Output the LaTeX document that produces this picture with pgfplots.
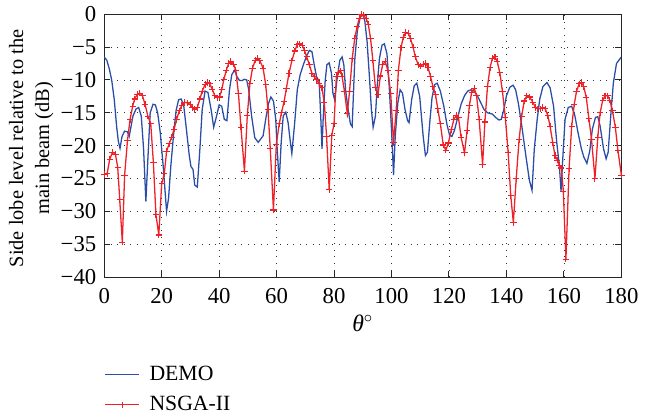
\documentclass[border=0pt]{standalone}
\usepackage{fontspec}
\setmainfont{Liberation Serif}
\usepackage{pgfplots}
\pgfplotsset{compat=1.18}
\definecolor{demoBlue}{RGB}{42,78,168}
\definecolor{nsgaRed}{RGB}{238,32,40}

% NSGA-II pattern
\pgfplotstableread{
x y
0 -24.4
1.0 -24.3
1.9 -22.1
2.9 -21.0
3.9 -21.3
4.7 -23.3
5.4 -28.2
6.3 -34.7
7.1 -24.5
8.1 -19.2
9.0 -16.0
9.9 -14.0
10.6 -12.9
11.5 -12.2
12.4 -12.0
13.3 -12.4
14.2 -13.7
15.2 -15.5
16.2 -16.7
17.1 -22.5
18.0 -30.5
19.0 -33.6
20.0 -25.8
20.9 -24.3
21.7 -20.9
22.6 -19.7
23.5 -18.7
24.3 -17.5
25.2 -16.0
26.1 -14.7
27.0 -13.9
27.9 -13.4
28.9 -13.5
29.9 -13.7
30.7 -14.2
31.5 -14.5
32.4 -14.2
33.3 -12.9
34.1 -11.7
35.1 -10.7
35.9 -10.4
36.7 -10.6
37.6 -11.4
38.5 -12.4
39.3 -12.7
40.1 -12.6
40.9 -11.5
41.6 -10.0
42.5 -8.5
43.3 -7.5
44.1 -7.2
45.0 -7.6
45.8 -8.5
46.7 -12.0
47.6 -17.2
48.8 -23.9
49.8 -15.4
50.7 -10.6
51.6 -8.2
52.6 -7.0
53.4 -6.7
54.2 -7.1
55.3 -8.2
56.2 -10.7
57.0 -14.5
57.8 -20.5
58.9 -29.8
59.9 -19.8
60.9 -16.7
61.7 -15.0
62.6 -13.3
63.4 -11.3
64.3 -9.0
65.3 -7.1
66.3 -5.6
67.2 -4.6
68.0 -4.5
68.9 -4.7
69.7 -5.5
70.5 -6.5
71.4 -7.7
72.3 -9.0
73.1 -9.5
73.9 -10.0
74.8 -10.6
75.8 -11.2
76.6 -13.5
77.4 -18.6
78.3 -26.7
79.2 -18.5
80.0 -16.6
80.8 -9.5
81.5 -8.8
82.3 -8.6
82.8 -9.5
83.6 -11.7
84.6 -15.1
85.4 -11.7
86.3 -6.8
87.2 -3.7
88.0 -1.9
88.8 -0.6
89.6 0
90.4 -0.2
91.2 -0.7
91.9 -1.5
92.7 -3.7
93.5 -7.0
94.4 -11.2
95.3 -12.2
96.1 -9.4
96.9 -7.7
97.8 -7.2
98.7 -8.5
99.7 -12.0
100.7 -19.5
101.6 -14.7
102.4 -8.5
103.3 -5.1
104.1 -3.5
104.9 -2.8
105.8 -2.9
106.6 -3.7
107.5 -5.0
108.3 -6.5
109.3 -7.7
110.2 -7.9
111.0 -7.6
111.9 -7.5
112.7 -8.1
113.6 -9.5
114.4 -11.0
115.3 -12.2
116.1 -14.4
117.0 -16.7
118.0 -19.9
118.9 -20.7
119.8 -19.6
120.8 -17.6
121.7 -16.0
122.5 -15.4
123.3 -15.7
124.2 -18.7
125.4 -21.1
126.3 -17.7
127.1 -13.9
127.9 -11.9
128.8 -11.3
129.6 -12.4
130.5 -16.0
131.7 -22.9
132.5 -16.4
133.4 -11.0
134.3 -8.1
135.1 -6.7
136.0 -6.5
136.8 -7.2
137.7 -8.9
138.6 -11.7
139.6 -15.7
140.6 -21.1
141.5 -27.6
142.4 -31.7
143.4 -25.0
144.4 -19.1
145.3 -15.5
146.2 -13.2
147.1 -12.4
148.0 -12.6
149.2 -13.4
150.1 -14.2
150.9 -14.4
151.8 -14.4
152.7 -14.2
153.5 -14.4
154.4 -15.4
155.2 -17.1
156.1 -19.5
156.9 -21.5
157.7 -22.2
158.4 -23.0
159.1 -23.4
159.8 -27.0
160.7 -37.3
161.8 -23.5
162.7 -17.1
163.6 -13.7
164.4 -11.7
165.3 -10.6
166.1 -10.4
166.9 -11.0
167.8 -12.7
168.7 -15.9
169.6 -19.0
170.8 -25.0
171.8 -18.7
172.6 -15.0
173.5 -13.1
174.3 -12.4
175.2 -12.4
176.0 -13.1
176.9 -14.7
177.9 -17.2
178.8 -20.7
180.0 -24.5
}\nsgadata

% DEMO pattern
\pgfplotstableread{
x y
0 -6.5
0.9 -7.0
1.7 -8.2
2.6 -10.0
3.5 -13.0
4.3 -17.0
4.9 -19.3
5.5 -20.4
6.2 -18.6
7.1 -17.8
8.1 -17.9
8.7 -18.6
10.0 -15.5
11.1 -14.4
12.0 -14.2
12.9 -15.5
13.7 -20.5
14.5 -28.5
15.2 -22.0
16.0 -15.0
17.0 -13.7
17.8 -13.8
18.6 -15.0
19.5 -18.0
20.6 -23.5
21.7 -30.0
22.4 -28.0
23.2 -23.0
24.1 -18.5
25.0 -14.7
25.9 -13.0
26.8 -12.9
27.7 -14.0
28.6 -17.5
29.6 -21.5
30.2 -23.2
30.9 -23.6
31.5 -26.0
32.4 -26.3
33.3 -20.5
34.1 -14.5
35.1 -11.7
36.1 -11.9
37.2 -14.5
38.1 -17.2
39.1 -15.5
40.0 -13.8
40.9 -14.0
41.8 -16.0
42.7 -16.2
43.6 -11.5
44.4 -9.2
45.4 -8.5
46.2 -9.5
47.1 -10.1
48.0 -10.1
48.7 -9.9
49.6 -10.0
50.3 -11.5
51.3 -15.5
52.4 -18.8
53.6 -19.5
55.3 -18.5
56.2 -16.0
57.1 -13.7
58.0 -12.6
58.9 -13.2
59.7 -16.0
60.2 -20.5
60.9 -25.5
61.6 -19.5
62.3 -15.5
63.2 -14.9
64.0 -16.5
64.8 -19.5
65.3 -21.2
66.3 -16.5
67.2 -11.5
68.2 -9.2
69.3 -7.7
70.3 -6.5
71.4 -5.5
72.3 -5.7
73.1 -7.7
73.9 -9.5
74.8 -10.2
75.4 -16.0
75.8 -20.5
76.2 -16.0
76.9 -10.2
77.5 -7.7
78.3 -7.4
79.1 -9.0
79.6 -12.0
80.2 -13.0
81.1 -9.7
82.0 -7.0
82.8 -6.5
83.4 -7.7
84.0 -11.5
84.9 -14.5
85.7 -16.7
86.3 -17.1
87.2 -7.0
88.1 -2.5
89.1 -0.5
89.9 0
90.7 -1.0
91.5 -4.2
92.3 -9.5
93.0 -14.5
93.6 -17.2
94.4 -15.5
95.0 -11.0
95.8 -6.7
96.7 -4.7
97.5 -4.5
98.4 -6.0
99.2 -11.0
100.1 -18.5
100.7 -24.5
101.3 -18.5
102.2 -13.5
103.0 -11.5
103.8 -12.0
104.7 -14.5
105.6 -16.2
106.1 -16.5
107.0 -13.0
107.9 -10.9
108.8 -10.5
109.8 -12.5
111.0 -18.5
111.8 -21.5
112.5 -21.0
113.3 -16.5
114.1 -12.7
115.0 -10.7
115.9 -10.5
117.0 -11.7
118.2 -14.0
119.3 -16.8
120.2 -18.4
121.0 -18.6
121.9 -17.7
123.1 -15.6
124.2 -13.7
125.4 -12.4
126.5 -11.7
127.7 -11.5
128.8 -11.7
130.0 -12.5
131.1 -13.5
132.2 -14.5
133.4 -15.0
135.1 -15.2
136.2 -15.7
137.4 -16.1
138.2 -16.0
139.1 -14.5
140.0 -12.4
141.2 -11.1
142.3 -10.8
143.2 -11.5
144.2 -13.7
145.4 -17.2
146.9 -22.0
148.0 -25.3
148.9 -26.8
149.7 -20.5
150.7 -16.0
151.6 -12.9
152.7 -11.0
154.1 -10.4
155.2 -11.2
156.4 -14.0
157.5 -19.5
158.4 -23.0
159.0 -26.9
159.6 -22.0
160.4 -16.0
161.5 -14.2
162.7 -14.0
163.8 -15.4
164.9 -18.0
166.1 -20.5
166.9 -21.7
168.0 -22.7
169.0 -20.8
169.9 -17.5
171.0 -15.7
171.8 -15.6
172.6 -17.0
173.8 -20.5
174.7 -22.0
175.4 -21.0
176.3 -15.5
177.2 -10.5
178.3 -7.5
180.0 -6.5
}\demodata

\begin{document}
\begin{tikzpicture}
\begin{axis}[
    scale only axis,
    width=261.75pt,
    height=133pt,
    xmin=0, xmax=180,
    ymin=-40, ymax=0,
    xtick={0,20,...,180},
    ytick={-40,-35,...,0},
    xticklabels={0,20,40,60,80,100,120,140,160,180},
    yticklabels={−40,−35,−30,−25,−20,−15,−10,−5,0},
    tick align=inside,
    major tick length=3pt,
    grid=major,
    major grid style={black!80, line width=0.4pt, dash pattern=on 0.5pt off 2.8pt},
    axis line style={black!85, line width=0.5pt},
    tick style={black!85, line width=0.5pt},
    ticklabel style={font=\fontsize{11.5}{13}\selectfont},
    xticklabel style={yshift=-2pt},
    yticklabel style={xshift=-0.5pt},
    xlabel={\textit{θ}$^{\circ}$},
    ylabel={Side lobe level relative to the\\main beam (dB)},
    label style={font=\fontsize{10.3}{13.2}\selectfont},
    xlabel style={at={(axis description cs:0.5,-0.175)}, anchor=center, font=\fontsize{12}{14}\selectfont},
    ylabel style={at={(axis description cs:-0.141,0.49)}, anchor=center, align=center},
    legend style={at={(axis description cs:0,-0.322)}, anchor=north west,
        draw=none, fill=none, inner sep=0pt,
        font=\fontsize{11}{13}\selectfont, row sep=2.5pt, column sep=3pt},
    legend cell align=left,
]
\addplot[demoBlue, line width=0.65pt] table[x=x,y=y] {\demodata};
\addlegendentry{DEMO}
\addplot[nsgaRed, line width=0.65pt, mark=+, mark size=1.6pt, mark options={line width=0.55pt}] table[x=x,y=y] {\nsgadata};
\addlegendentry{NSGA-II}
\end{axis}
\path ([shift={(-52.75pt,-67.65pt)}]current axis.south west) rectangle ([shift={(8pt,5.85pt)}]current axis.north east);
\end{tikzpicture}
\end{document}
